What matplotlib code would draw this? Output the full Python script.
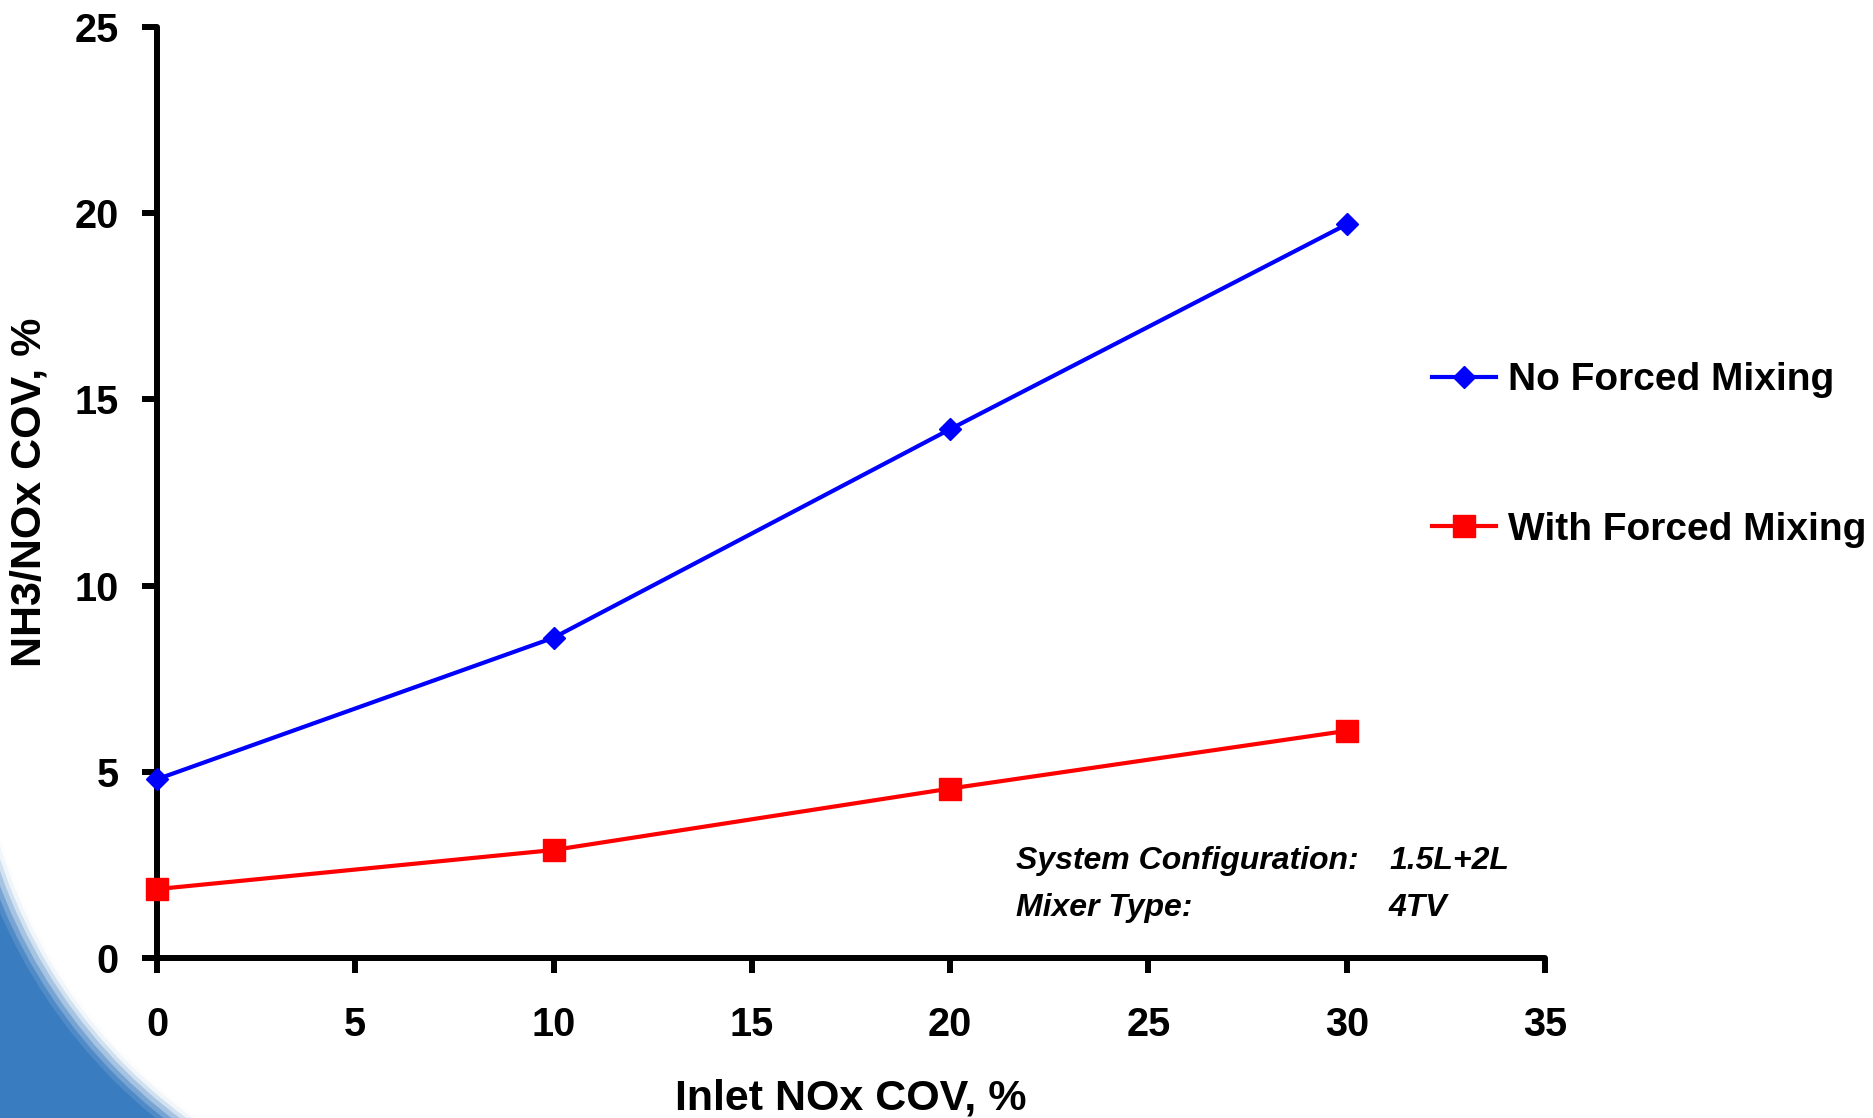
"""
NH3/NOx COV vs inlet NOx COV - with and without forced mixing
"""

import matplotlib
matplotlib.use("Agg")
from matplotlib import pyplot as plt
from matplotlib.patches import Rectangle, Circle

# ============================================================
# DATA
# ============================================================
inlet_cov = [0, 10, 20, 30]
no_mixing = [4.8, 8.6, 14.2, 19.7]
with_mixing = [1.85, 2.9, 4.55, 6.1]

series_labels = ["No Forced Mixing", "With Forced Mixing"]
x_ticks = [0, 5, 10, 15, 20, 25, 30, 35]
y_ticks = [0, 5, 10, 15, 20, 25]

note_keys = ["System Configuration:", "Mixer Type:"]
note_vals = ["1.5L+2L", "4TV"]

# ============================================================
# FIGURE
# ============================================================
plt.rcParams['font.family'] = ['Liberation Sans', 'DejaVu Sans']
plt.rcParams['font.weight'] = 'bold'

W, H = 1874, 1118
fig = plt.figure(figsize=(W / 100, H / 100), dpi=100)
fig.patch.set_facecolor('white')

# blue slide decoration in the lower-left corner (display pixels)
blue = '#3a7cc0'
cx, cy, r0 = 496, 419, 514
fig.add_artist(Rectangle((0, 0), 320, 280, transform=None,
                         facecolor=blue, edgecolor='none', zorder=-3))
for dr, a in [(26, 0.12), (21, 0.22), (16, 0.35), (11, 0.5), (7, 0.7), (3, 0.88)]:
    fig.add_artist(Circle((cx, cy), r0 + dr, transform=None,
                          facecolor='white', edgecolor='none', alpha=a, zorder=-2))
fig.add_artist(Circle((cx, cy), r0, transform=None,
                      facecolor='white', edgecolor='none', zorder=-1))

ax = fig.add_axes([157 / W, 1 - 958 / H, (1545 - 157) / W, (958 - 27) / H])
ax.set_facecolor('none')

ax.plot(inlet_cov, no_mixing, color='#0000ff', lw=3, marker='D', ms=11.5,
        label=series_labels[0], clip_on=False, zorder=3)
ax.plot(inlet_cov, with_mixing, color='#ff0000', lw=3, marker='s', ms=15.5,
        label=series_labels[1], clip_on=False, zorder=3)

ax.set_xlim(0, 35)
ax.set_ylim(0, 25)
ax.set_xticks(x_ticks)
ax.set_yticks(y_ticks)

for side in ['top', 'right']:
    ax.spines[side].set_visible(False)
for side in ['left', 'bottom']:
    ax.spines[side].set_linewidth(4.3)
    ax.spines[side].set_capstyle('round')

ax.tick_params(axis='both', length=10.5, width=4.3, labelsize=28.5, direction='out')
ax.tick_params(axis='x', pad=24)
ax.tick_params(axis='y', pad=17)
for lab in ax.get_xticklabels() + ax.get_yticklabels():
    lab.set_fontweight('bold')

ax.set_xlabel("Inlet NOx COV, %", fontsize=31, fontweight='bold', labelpad=25)
ax.set_ylabel("NH3/NOx COV, %", fontsize=31, fontweight='bold', labelpad=18)

leg = ax.legend(loc='center left', bbox_to_anchor=(1432 / W, 1 - 455 / H),
                bbox_transform=fig.transFigure, frameon=False,
                prop={'size': 28, 'weight': 'bold'},
                handlelength=1.65, handletextpad=0.3, labelspacing=2.92,
                borderpad=0, borderaxespad=0)

# system configuration note
for i, (k, v) in enumerate(zip(note_keys, note_vals)):
    yb = 1 - (869 + 47 * i) / H
    fig.text(1016 / W, yb, k, fontsize=23, fontweight='bold', style='italic',
             va='baseline', ha='left')
    fig.text(1389 / W, yb, v, fontsize=23, fontweight='bold', style='italic',
             va='baseline', ha='left')

fig.savefig("out.png", dpi=100)
